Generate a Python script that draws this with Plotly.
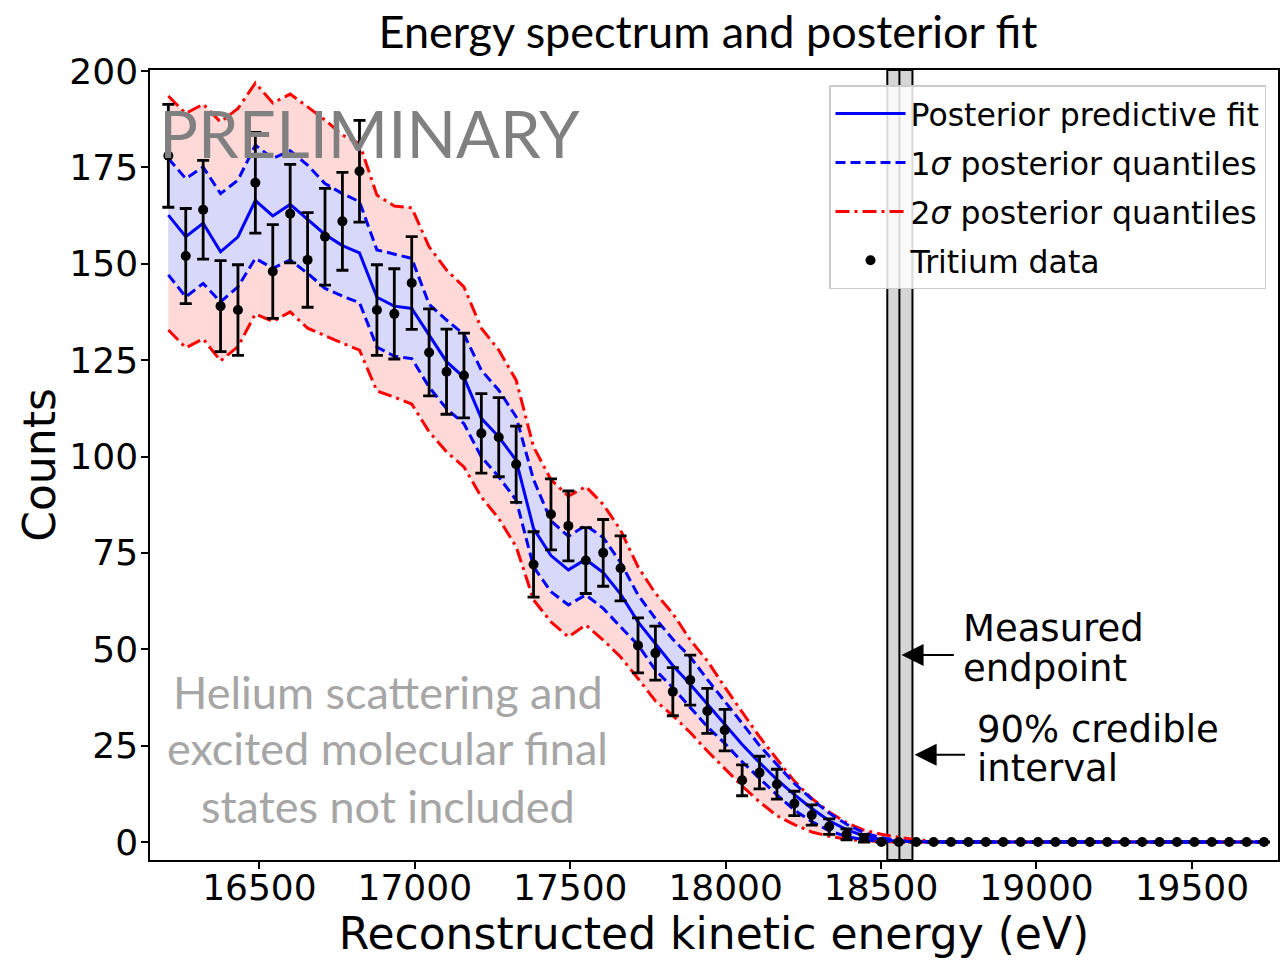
import numpy as np
import plotly.graph_objects as go

# ---------------- data ----------------
energy = [16207, 16263, 16319, 16375, 16431, 16487, 16543, 16599, 16655, 16711,
          16767, 16822, 16878, 16934, 16990, 17046, 17102, 17158, 17214, 17270,
          17326, 17382, 17438, 17494, 17550, 17606, 17662, 17718, 17774, 17830,
          17886, 17941, 17997, 18053, 18109, 18165, 18221, 18277, 18333, 18389,
          18445, 18501, 18557, 18613, 18669, 18725, 18781, 18837, 18893, 18949,
          19005, 19061, 19116, 19172, 19228, 19284, 19340, 19396, 19452, 19508,
          19564, 19620, 19676, 19732]

counts = [178, 152, 164, 139, 138, 171, 148, 163, 151, 157, 161, 174, 138, 137,
          145, 127, 122, 121, 106, 105, 98, 72, 85, 82, 73, 75, 71, 51, 49, 39,
          42, 34, 29, 16, 18, 15, 10, 7, 4, 2, 1] + [0] * 23

fit_median = [162.6, 157.0, 160.5, 153.1, 157.0, 166.4, 162.4, 165.4, 161.5, 157.6,
              154.7, 152.8, 141.3, 139.0, 138.4, 131.5, 124.6, 120.5, 109.9, 105.1,
              99.0, 81.3, 74.3, 70.6, 73.3, 69.9, 64.3, 57.1, 51.5, 45.8,
              40.9, 35.7, 30.5, 25.3, 20.6, 16.2, 12.3, 8.7, 5.5, 3.2,
              1.6, 0.6, 0.2, 0.05] + [0] * 20

q1_high = [177.3, 172.1, 175.1, 168.2, 171.7, 180.8, 177.3, 179.3, 175.6, 170.8,
           168.2, 166.1, 153.6, 152.5, 151.4, 139.5, 135.4, 131.7, 122.4, 117.2,
           110.3, 94.0, 83.3, 79.3, 82.1, 79.0, 72.5, 64.1, 58.0, 52.6,
           48.0, 42.2, 36.6, 30.8, 25.0, 20.0, 15.2, 11.1, 7.5, 4.6,
           2.4, 1.1, 0.4, 0.1] + [0] * 20

q1_low = [147.1, 141.4, 144.9, 140.1, 144.0, 151.4, 148.8, 151.0, 147.5, 143.6,
          141.6, 139.9, 128.4, 126.0, 125.4, 118.0, 112.4, 108.5, 99.9, 94.7,
          88.7, 71.4, 64.9, 61.5, 64.1, 60.6, 55.8, 51.1, 44.6, 40.0,
          34.9, 29.9, 25.6, 20.8, 16.5, 12.2, 8.3, 5.3, 2.9, 1.4,
          0.6, 0.2] + [0] * 22

q2_high = [193.5, 189.0, 191.4, 186.8, 190.3, 196.9, 191.7, 194.0, 190.7, 187.3,
           183.4, 181.2, 167.8, 165.0, 164.5, 154.4, 148.4, 144.0, 133.3, 127.6,
           119.8, 102.5, 94.0, 89.7, 92.2, 87.6, 80.9, 71.4, 64.5, 59.3,
           52.4, 47.0, 40.2, 33.8, 27.3, 21.5, 15.8, 11.3, 7.8, 5.0,
           3.1, 2.0, 1.2, 0.6, 0.2] + [0] * 19

q2_low = [132.8, 128.2, 130.5, 124.8, 128.5, 137.0, 135.0, 137.5, 133.3, 131.3,
          129.4, 127.6, 117.0, 115.4, 113.6, 106.4, 101.2, 97.3, 89.5, 83.9,
          76.6, 62.8, 57.1, 53.2, 56.3, 52.4, 48.0, 42.4, 36.6, 32.8,
          28.4, 23.6, 19.0, 14.5, 10.4, 6.8, 4.5, 2.6, 1.5, 0.7,
          0.3, 0.1] + [0] * 22

endpoint = 18559
interval_low = 18520
interval_high = 18601

x_ticks = [16500, 17000, 17500, 18000, 18500, 19000, 19500]
x_tick_labels = ["16500", "17000", "17500", "18000", "18500", "19000", "19500"]
y_ticks = [0, 25, 50, 75, 100, 125, 150, 175, 200]

# Poisson error bars
count_err = np.sqrt(np.array(counts, dtype=float))

# ---------------- figure ----------------
DV = "DejaVu Sans"
CAL = "Lato"
RED_DASHDOT = "14px,5px,3px,5px"
BLUE_DASH = "10px,5px"
LW = 3

fig = go.Figure()

# 2 sigma band fill
fig.add_trace(go.Scatter(x=energy, y=q2_low, mode="lines", line=dict(width=0),
                         showlegend=False, hoverinfo="skip"))
fig.add_trace(go.Scatter(x=energy, y=q2_high, mode="lines", line=dict(width=0),
                         fill="tonexty", fillcolor="rgb(255,216,216)",
                         showlegend=False, hoverinfo="skip"))
# 1 sigma band fill
fig.add_trace(go.Scatter(x=energy, y=q1_low, mode="lines", line=dict(width=0),
                         showlegend=False, hoverinfo="skip"))
fig.add_trace(go.Scatter(x=energy, y=q1_high, mode="lines", line=dict(width=0),
                         fill="tonexty", fillcolor="rgb(216,216,250)",
                         showlegend=False, hoverinfo="skip"))

# 2 sigma lines
fig.add_trace(go.Scatter(x=energy, y=q2_high, mode="lines",
                         line=dict(color="red", width=LW, dash=RED_DASHDOT),
                         name="2<i>σ</i> posterior quantiles",
                         legendgroup="q2", legendrank=3))
fig.add_trace(go.Scatter(x=energy, y=q2_low, mode="lines",
                         line=dict(color="red", width=LW, dash=RED_DASHDOT),
                         showlegend=False, legendgroup="q2"))
# 1 sigma lines
fig.add_trace(go.Scatter(x=energy, y=q1_high, mode="lines",
                         line=dict(color="blue", width=LW, dash=BLUE_DASH),
                         name="1<i>σ</i> posterior quantiles",
                         legendgroup="q1", legendrank=2))
fig.add_trace(go.Scatter(x=energy, y=q1_low, mode="lines",
                         line=dict(color="blue", width=LW, dash=BLUE_DASH),
                         showlegend=False, legendgroup="q1"))
# median
fig.add_trace(go.Scatter(x=energy, y=fit_median, mode="lines",
                         line=dict(color="blue", width=LW),
                         name="Posterior predictive fit",
                         legendgroup="med", legendrank=1))
# data
fig.add_trace(go.Scatter(x=energy, y=counts, mode="markers",
                         marker=dict(color="black", size=10),
                         error_y=dict(type="data", array=count_err, visible=True,
                                      color="black", thickness=2.8, width=6),
                         name="Tritium data", legendgroup="data", legendrank=4))

# endpoint and 90% credible interval
fig.add_shape(type="rect", xref="x", yref="y domain", x0=interval_low, x1=interval_high,
              y0=0, y1=1, fillcolor="rgb(214,214,214)", line=dict(color="black", width=2),
              layer="below")
fig.add_shape(type="line", xref="x", yref="y domain", x0=endpoint, x1=endpoint,
              y0=0, y1=1, line=dict(color="black", width=2), layer="below")

annotations = [
    dict(text="PRELIMINARY", x=16855, y=184, xref="x", yref="y", showarrow=False,
         xanchor="center", yanchor="middle", font=dict(family=CAL, size=65, color="#808080")),
    dict(text="Helium scattering and", x=16913, y=39, xref="x", yref="y", showarrow=False,
         xanchor="center", yanchor="middle", font=dict(family=CAL, size=45, color="#a6a6a6")),
    dict(text="excited molecular final", x=16913, y=24.4, xref="x", yref="y", showarrow=False,
         xanchor="center", yanchor="middle", font=dict(family=CAL, size=45, color="#a6a6a6")),
    dict(text="states not included", x=16913, y=9.3, xref="x", yref="y", showarrow=False,
         xanchor="center", yanchor="middle", font=dict(family=CAL, size=45, color="#a6a6a6")),
    dict(text="Measured", x=18758, y=55.5, xref="x", yref="y", showarrow=False,
         xanchor="left", yanchor="middle", font=dict(family=DV, size=37, color="black")),
    dict(text="endpoint", x=18758, y=45.1, xref="x", yref="y", showarrow=False,
         xanchor="left", yanchor="middle", font=dict(family=DV, size=37, color="black")),
    dict(text="90% credible", x=18803, y=29.3, xref="x", yref="y", showarrow=False,
         xanchor="left", yanchor="middle", font=dict(family=DV, size=37, color="black")),
    dict(text="interval", x=18803, y=19.0, xref="x", yref="y", showarrow=False,
         xanchor="left", yanchor="middle", font=dict(family=DV, size=37, color="black")),
    dict(text="", x=18566, y=48.5, xref="x", yref="y", ax=18739, ay=48.5, axref="x", ayref="y",
         showarrow=True, arrowhead=2, arrowsize=2.2, arrowwidth=2, arrowcolor="black", standoff=0),
    dict(text="", x=18608, y=22.6, xref="x", yref="y", ax=18775, ay=22.6, axref="x", ayref="y",
         showarrow=True, arrowhead=2, arrowsize=2.2, arrowwidth=2, arrowcolor="black", standoff=0),
]

axis_common = dict(showline=True, linecolor="black", linewidth=1.5, mirror=True,
                   ticks="outside", ticklen=7, tickwidth=1.5, tickcolor="black",
                   showgrid=False, zeroline=False,
                   tickfont=dict(family=DV, size=36, color="black"))

fig.update_layout(
    width=1281, height=966,
    margin=dict(l=150, r=1, t=70, b=106, pad=0),
    paper_bgcolor="white", plot_bgcolor="white",
    title=dict(text="Energy spectrum and posterior fit", x=708 / 1281, xanchor="center",
               y=1 - 32 / 966, yanchor="middle", font=dict(family=CAL, size=45, color="black")),
    xaxis=dict(range=[16148, 19777], tickvals=x_ticks, ticktext=x_tick_labels,
               ticklabelstandoff=-12,
               title=dict(text="Reconstructed kinetic energy (eV)", standoff=4,
                          font=dict(family=DV, size=44, color="black")),
               **axis_common),
    yaxis=dict(range=[-4.67, 200.26], tickvals=y_ticks, ticklabelstandoff=-4,
               title=dict(text="Counts", standoff=0,
                          font=dict(family=DV, size=44, color="black")),
               **axis_common),
    legend=dict(x=(1268 - 150) / 1130, xanchor="right", y=(860 - 85) / 790, yanchor="top",
                bgcolor="rgba(255,255,255,0.85)", bordercolor="#cccccc", borderwidth=1.5,
                font=dict(family=DV, size=31.5, color="black"),
                traceorder="grouped", tracegroupgap=5, itemwidth=70),
    annotations=annotations,
    showlegend=True,
)

fig.write_html("out.html")
